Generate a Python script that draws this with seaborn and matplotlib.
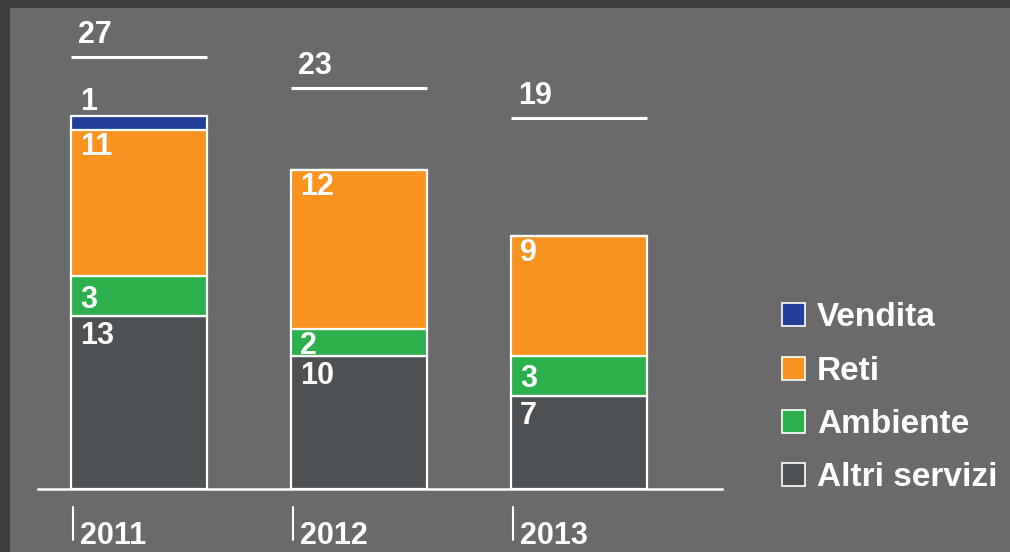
import numpy as np
import pandas as pd
import seaborn as sns
from matplotlib import pyplot as plt
from matplotlib.patches import Patch, Rectangle

# Data
years = ['2011', '2012', '2013']
altri_servizi = [13, 10, 7]
ambiente = [3, 2, 3]
reti = [11, 12, 9]
vendita = [1, 0, 0]
totals = [27, 23, 19]

series = ['Altri servizi', 'Ambiente', 'Reti', 'Vendita']
values = [altri_servizi, ambiente, reti, vendita]
colors = ['#4d5153', '#2bb04b', '#f7931e', '#21409a']

bg = '#6a6a6b'
border = '#3e3e3e'

sns.set_style('white')
plt.rcParams['font.family'] = ['Liberation Sans', 'DejaVu Sans']
plt.rcParams['font.weight'] = 'bold'

fig = plt.figure(figsize=(10.1, 5.52), dpi=100, facecolor=border)
fig.add_artist(Rectangle((10 / 1010, 0), 1, 1 - 8 / 552, transform=fig.transFigure,
                         facecolor=bg, edgecolor='none', zorder=-5))
ax = fig.add_axes([38 / 1010, 1 - 489 / 552, (722 - 38) / 1010, (489 - 10) / 552])
ax.set_facecolor('none')

bar_w = 136 / 220
bottom = np.zeros(len(years))
for name, vals, col in zip(series, values, colors):
    df = pd.DataFrame({'year': years, 'value': vals})
    sns.barplot(data=df, x='year', y='value', color=col, width=bar_w, bottom=bottom,
                edgecolor='white', linewidth=1.6, errorbar=None, saturation=1, ax=ax)
    bottom = bottom + np.array(vals)

ax.set_xlim(-0.459, 2.65)
ax.set_ylim(0, 36)
for s in ['top', 'right', 'left']:
    ax.spines[s].set_visible(False)
ax.spines['bottom'].set_color('white')
ax.spines['bottom'].set_linewidth(1.8)
ax.set_xticks([])
ax.set_yticks([])
ax.set_xlabel('')
ax.set_ylabel('')

fs = 22
unit = 13.3  # pixels per unit
dx = 9 / 220
txt = dict(color='white', fontsize=fs, fontweight='bold', ha='left')
for i, yr in enumerate(years):
    left = i - bar_w / 2
    # segment labels
    base = 0
    for name, vals in zip(series, values):
        v = vals[i]
        if v == 0:
            continue
        top = base + v
        if name == 'Vendita':
            ax.text(left + dx, top + 6 / unit, str(v), va='baseline', **txt)
        elif name == 'Ambiente':
            ax.text(left + dx, base + v / 2, str(v), va='center_baseline', **txt)
        elif name == 'Reti':
            ax.text(left + dx, top - 2 / unit, str(v), va='top', **txt)
        else:
            ax.text(left + dx, top - 5 / unit, str(v), va='top', **txt)
        base = top
    # total line and label
    line_y = (489 - (57 + 30.7 * i)) / unit
    ax.plot([left, left + bar_w], [line_y, line_y], color='white', lw=2.2,
            solid_capstyle='butt', clip_on=False)
    ax.text(left + 7 / 220, line_y + 14 / unit, str(totals[i]), va='baseline', **txt)
    # year tick and label
    tx = left + 2 / 220
    ax.plot([tx, tx], [-18 / unit, -51 / unit], color='white', lw=1.5, clip_on=False)
    ax.text(left + 9 / 220, -62 / unit, yr, va='bottom', clip_on=False, **txt)

handles = [Patch(facecolor=c, edgecolor='white', linewidth=1.2) for c in colors[::-1]]
fig.legend(handles, series[::-1], loc='center left', bbox_to_anchor=(782 / 1010, 1 - 398 / 552),
           bbox_transform=fig.transFigure, frameon=False, borderpad=0, borderaxespad=0,
           handlelength=0.69, handleheight=0.69, handletextpad=0.36, labelspacing=0.67,
           labelcolor='white', prop={'family': 'Liberation Sans', 'weight': 'bold', 'size': 24})

fig.savefig('out.png', dpi=100, facecolor=fig.get_facecolor())
